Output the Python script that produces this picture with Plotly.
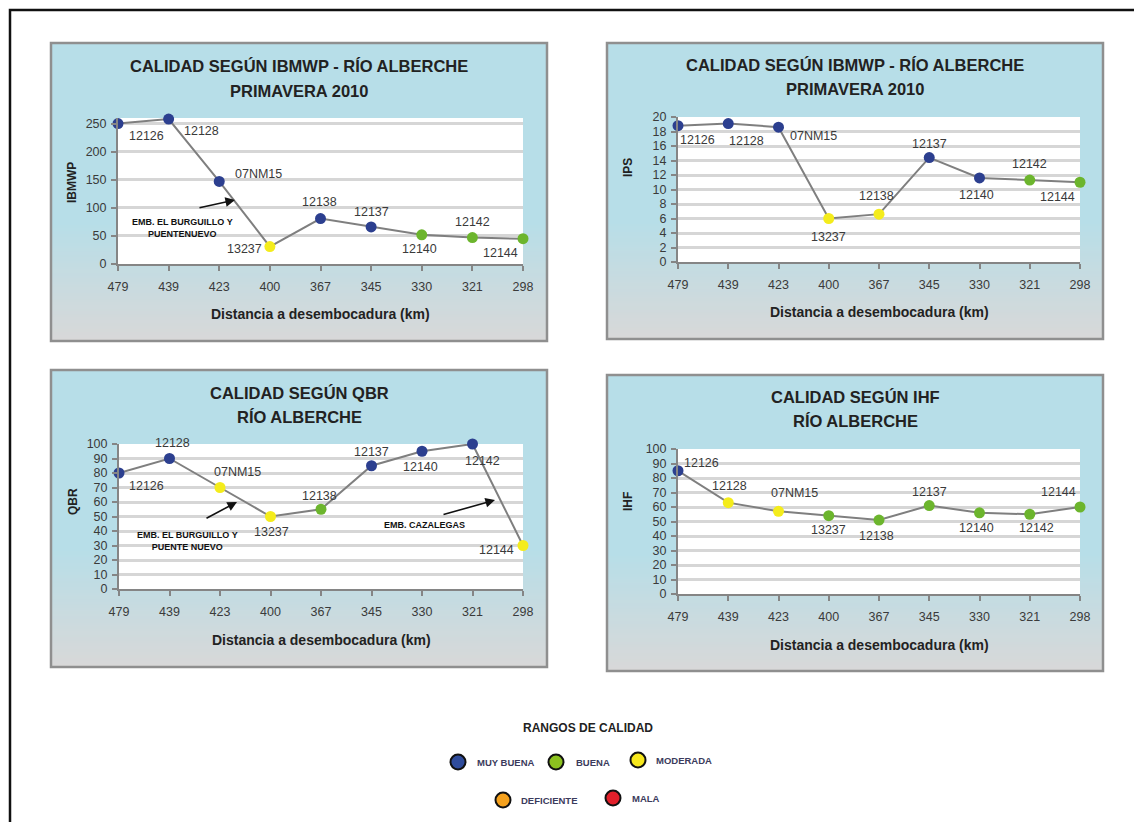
import plotly.graph_objects as go

W, H = 1134, 822

# ---- data -------------------------------------------------------------
distances = ["479", "439", "423", "400", "367", "345", "330", "321", "298"]
stations = ["12126", "12128", "07NM15", "13237", "12138", "12137", "12140", "12142", "12144"]

ibmwp = [250, 258, 147, 31, 81, 66, 52, 47, 45]
ibmwp_quality = ["MUY BUENA", "MUY BUENA", "MUY BUENA", "MODERADA", "MUY BUENA",
                 "MUY BUENA", "BUENA", "BUENA", "BUENA"]

ips = [18.8, 19.1, 18.6, 6.0, 6.6, 14.4, 11.6, 11.3, 11.0]
ips_quality = ["MUY BUENA", "MUY BUENA", "MUY BUENA", "MODERADA", "MODERADA",
               "MUY BUENA", "MUY BUENA", "BUENA", "BUENA"]

qbr = [80, 90, 70, 50, 55, 85, 95, 100, 30]
qbr_quality = ["MUY BUENA", "MUY BUENA", "MODERADA", "MODERADA", "BUENA",
               "MUY BUENA", "MUY BUENA", "MUY BUENA", "MODERADA"]

ihf = [85, 63, 57, 54, 51, 61, 56, 55, 60]
ihf_quality = ["MUY BUENA", "MODERADA", "MODERADA", "BUENA", "BUENA",
               "BUENA", "BUENA", "BUENA", "BUENA"]

quality_levels = ["MUY BUENA", "BUENA", "MODERADA", "DEFICIENTE", "MALA"]

# ---- styling ----------------------------------------------------------
marker_colors = {"MUY BUENA": "#2c3f8f", "BUENA": "#6cb52d", "MODERADA": "#f4ec1c",
                 "DEFICIENTE": "#f39c1f", "MALA": "#e11f26"}
legend_colors = {"MUY BUENA": "#2f4c9c", "BUENA": "#8cc21f", "MODERADA": "#f7e81d",
                 "DEFICIENTE": "#f5a11d", "MALA": "#e2202b"}

TITLE_FONT = "Liberation Sans, Arial, sans-serif"
TEXT_FONT = "Liberation Sans, Arial, sans-serif"
BG_BLUE = (183, 222, 232)
BG_GRAY = (216, 216, 216)


def px(x):
    return x / W


def py(y):
    return 1 - y / H


def label(x, y, text, size, color="#222222", **kw):
    """Text placed in page pixel coordinates."""
    d = dict(x=px(x), y=py(y), xref="paper", yref="paper", text=text, showarrow=False,
             xanchor="center", yanchor="middle",
             font=dict(family=TITLE_FONT, size=size, color=color))
    d.update(kw)
    return d


panels = [
    dict(values=ibmwp, quality=ibmwp_quality, ytitle="IBMWP",
         title=["CALIDAD SEGÚN IBMWP - RÍO ALBERCHE", "PRIMAVERA 2010"],
         box=(51, 43, 547, 341), plot=(118, 118, 523, 264), yrange=[0, 260], dtick=50,
         title_y=(66, 91), ytitle_xy=(72, 183), xtitle_y=314,
         offsets=[(28, -12), (33, -12), (39, 7), (-25, -2), (-1, 17),
                  (0, 15), (-2, -14), (0, 16), (-23, -14)]),
    dict(values=ips, quality=ips_quality, ytitle="IPS",
         title=["CALIDAD SEGÚN IBMWP - RÍO ALBERCHE", "PRIMAVERA 2010"],
         box=(607, 43, 1103, 339), plot=(678, 117, 1080, 262), yrange=[0, 20], dtick=2,
         title_y=(65, 89), ytitle_xy=(628, 168), xtitle_y=312,
         offsets=[(19, -14), (18, -17), (35, -9), (0, -18), (-3, 18),
                  (0, 14), (-3, -17), (0, 16), (-23, -15)]),
    dict(values=qbr, quality=qbr_quality, ytitle="QBR",
         title=["CALIDAD SEGÚN QBR", "RÍO ALBERCHE"],
         box=(51, 370, 547, 667), plot=(119, 444, 523, 589), yrange=[0, 100], dtick=10,
         title_y=(393, 417), ytitle_xy=(73, 502), xtitle_y=640,
         offsets=[(27, -13), (3, 16), (17, 16), (1, -15), (-2, 13),
                  (0, 14), (-2, -16), (10, -17), (-27, -4)]),
    dict(values=ihf, quality=ihf_quality, ytitle="IHF",
         title=["CALIDAD SEGÚN IHF", "RÍO ALBERCHE"],
         box=(607, 375, 1103, 671), plot=(678, 449, 1080, 594), yrange=[0, 100], dtick=10,
         title_y=(397, 421), ytitle_xy=(628, 502), xtitle_y=645,
         offsets=[(23, 8), (1, 17), (16, 18), (0, -14), (-3, -16),
                  (0, 14), (-3, -15), (7, -14), (-22, 15)]),
]

fig = go.Figure()
shapes = []
annotations = []

# outer frame (top and left edges)
shapes.append(dict(type="path", xref="paper", yref="paper",
                   path=f"M {px(10)},{py(822)} L {px(10)},{py(10)} L {px(1134)},{py(10)}",
                   line=dict(color="#111111", width=2.5), layer="below"))

for i, p in enumerate(panels, start=1):
    xa = "x" if i == 1 else f"x{i}"
    ya = "y" if i == 1 else f"y{i}"
    l, t, r, b = p["box"]
    pl, pt, pr, pb = p["plot"]

    # panel background: light blue fading to gray towards the bottom
    g0 = t + 0.60 * (b - t)
    shapes.append(dict(type="rect", xref="paper", yref="paper", layer="below",
                       x0=px(l), x1=px(r), y0=py(g0 + 1), y1=py(t),
                       fillcolor="rgb(%d,%d,%d)" % BG_BLUE, line=dict(width=0)))
    n = 40
    step = (b - g0) / n
    for k in range(n):
        f = (k + 0.5) / n
        c = tuple(round(BG_BLUE[j] + (BG_GRAY[j] - BG_BLUE[j]) * f) for j in range(3))
        y0 = g0 + k * step
        shapes.append(dict(type="rect", xref="paper", yref="paper", layer="below",
                           x0=px(l), x1=px(r), y0=py(min(y0 + step + 1, b)), y1=py(y0),
                           fillcolor="rgb(%d,%d,%d)" % c, line=dict(width=0)))
    shapes.append(dict(type="rect", xref="paper", yref="paper", layer="below",
                       x0=px(l), x1=px(r), y0=py(b), y1=py(t),
                       fillcolor="rgba(0,0,0,0)", line=dict(color="#8f8f8f", width=2.5)))
    # white plotting area
    shapes.append(dict(type="rect", xref="paper", yref="paper", layer="below",
                       x0=px(pl), x1=px(pr), y0=py(pb), y1=py(pt),
                       fillcolor="white", line=dict(width=0)))

    # series line and coloured markers
    fig.add_trace(go.Scatter(
        x=distances, y=p["values"], xaxis=xa, yaxis=ya, mode="lines+markers",
        line=dict(color="#7f7f7f", width=2),
        marker=dict(size=11, color=[marker_colors[q] for q in p["quality"]], line=dict(width=0)),
        cliponaxis=False, showlegend=False, hoverinfo="skip"))

    # station labels next to each point (category serial numbers on the x axis)
    for k, (val, name, (dx, dy)) in enumerate(zip(p["values"], stations, p["offsets"])):
        annotations.append(dict(x=k, y=val, xref=xa, yref=ya, text=name, showarrow=False,
                                xshift=dx, yshift=dy, xanchor="center", yanchor="middle",
                                font=dict(family=TEXT_FONT, size=12.5, color="#3a3a3a")))

    axis_common = dict(showline=True, linecolor="#858585", linewidth=2, ticks="outside",
                       tickcolor="#858585", tickwidth=1.5, ticklen=5, automargin=False,
                       tickfont=dict(family=TEXT_FONT, size=12.5, color="#3a3a3a"))
    fig.update_layout(**{
        ("xaxis" if i == 1 else f"xaxis{i}"): dict(
            axis_common, type="category", range=[0, len(distances) - 1],
            domain=[px(pl), px(pr)], anchor=ya, showgrid=False, fixedrange=True,
            ticklabelstandoff=5),
        ("yaxis" if i == 1 else f"yaxis{i}"): dict(
            axis_common, range=p["yrange"], dtick=p["dtick"], domain=[py(pb), py(pt)],
            anchor=xa, showgrid=True, gridcolor="#d6d6d6", gridwidth=3, zeroline=False,
            fixedrange=True, ticklabelstandoff=2),
    })

    # titles
    for line_text, line_y in zip(p["title"], p["title_y"]):
        annotations.append(label((l + r) / 2, line_y, "<b>" + line_text + "</b>", 16.5))
    annotations.append(label(p["ytitle_xy"][0], p["ytitle_xy"][1], "<b>" + p["ytitle"] + "</b>",
                             12, textangle=-90))
    annotations.append(label((pl + pr) / 2, p["xtitle_y"],
                             "<b>Distancia a desembocadura (km)</b>", 14))

# reservoir callouts
callouts = [
    ("EMB. EL BURGUILLO Y<br>PUENTENUEVO", (182, 228), (198, 208), (235, 200)),
    ("EMB. EL BURGUILLO Y<br>PUENTE NUEVO", (187, 541), (205, 519), (237, 502)),
    ("EMB. CAZALEGAS", (424, 525), (442, 515), (495, 500)),
]
for text, (tx, ty), (ax0, ay0), (hx, hy) in callouts:
    annotations.append(label(tx, ty, "<b>" + text + "</b>", 9, "#111111"))
    annotations.append(dict(x=px(hx), y=py(hy), xref="paper", yref="paper", text="",
                            showarrow=True, ax=ax0 - hx, ay=ay0 - hy, arrowhead=2,
                            arrowsize=1.2, arrowwidth=1.6, arrowcolor="#111111"))

# quality legend
annotations.append(label(588, 728, "<b>RANGOS DE CALIDAD</b>", 12))
legend_pos = {"MUY BUENA": (458, 762, 475), "BUENA": (556, 762, 574),
              "MODERADA": (638, 760, 654), "DEFICIENTE": (503, 800, 519),
              "MALA": (613, 798, 630)}
for q in quality_levels:
    cx, cy, tx = legend_pos[q]
    shapes.append(dict(type="circle", xref="paper", yref="paper",
                       xsizemode="pixel", ysizemode="pixel",
                       xanchor=px(cx), yanchor=py(cy), x0=-7.5, x1=7.5, y0=-7.5, y1=7.5,
                       fillcolor=legend_colors[q], line=dict(color="#111111", width=2)))
    annotations.append(label(tx, cy, "<b>" + q + "</b>", 9.5, "#3b3b5c", xanchor="left"))

fig.update_layout(width=W, height=H,
                  margin=dict(l=0, r=0, t=0, b=0, pad=0, autoexpand=False),
                  paper_bgcolor="white", plot_bgcolor="white",
                  shapes=shapes, annotations=annotations, showlegend=False)

fig.write_html("out.html", config={"displayModeBar": False})
